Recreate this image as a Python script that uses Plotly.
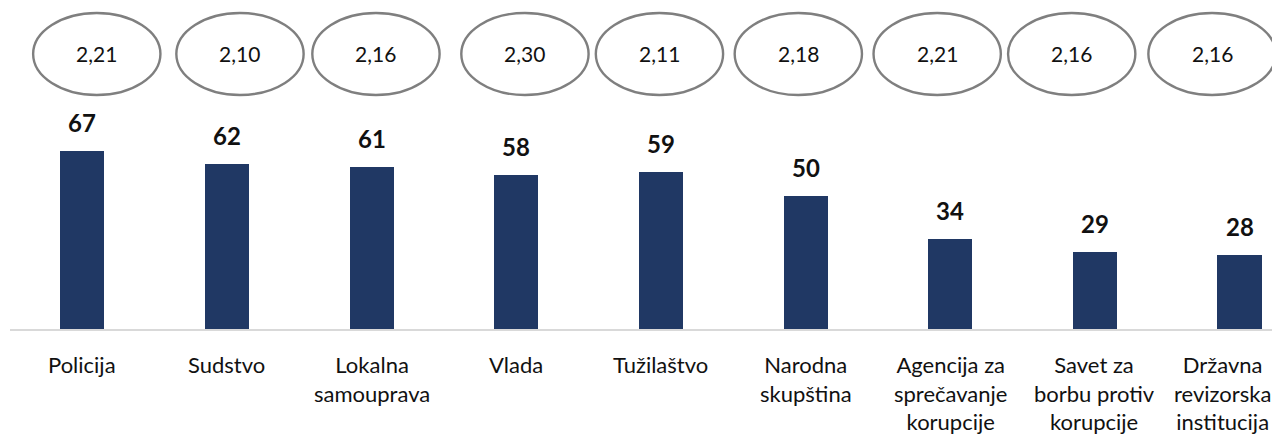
import plotly.graph_objects as go

categories = ["Policija", "Sudstvo", "Lokalna<br>samouprava", "Vlada", "Tužilaštvo",
              "Narodna<br>skupština", "Agencija za<br>sprečavanje<br>korupcije",
              "Savet za<br>borbu protiv<br>korupcije", "Državna<br>revizorska<br>institucija"]
percent = [67, 62, 61, 58, 59, 50, 34, 29, 28]
averages = ["2,21", "2,10", "2,16", "2,30", "2,11", "2,18", "2,21", "2,16", "2,16"]

# page body has an 8px default margin: work in page pixels, convert to figure pixels
OFF = 8
W, HGT = 1280 - OFF, 436 - OFF
PLOT_LEFT, PLOT_TOP, PLOT_BOT = 10 - OFF, 100 - OFF, 329 - OFF
H = PLOT_BOT - PLOT_TOP

# ellipse horizontal offsets (in category units) and sizes
ell_dx = [0.10, 0.09, 0.03, 0.06, -0.01, -0.05, -0.09, -0.16, -0.19]
ell_w = 0.88
# horizontal pixel shift of category labels (last one kept inside the page)
lab_shift = [0, 0, 0, 0, 0, 0, 0, 0, -17]
LABEL_TOP = 349

def py(page_px):
    return (PLOT_BOT - (page_px - OFF)) / H

x = list(range(len(categories)))
fig = go.Figure()
fig.add_trace(go.Bar(x=x, y=percent, width=0.305, marker=dict(color="#203864", line=dict(width=0)),
                     hoverinfo="skip"))

for i, v in enumerate(percent):
    fig.add_annotation(x=i, y=v, text=f"<b>{v}</b>", showarrow=False, yanchor="bottom",
                       xanchor="center", yshift=12,
                       font=dict(family="Lato", size=24, color="#111111"))

for i, a in enumerate(averages):
    cx = i + ell_dx[i]
    fig.add_shape(type="circle", xref="x", yref="paper",
                  x0=cx - ell_w / 2, x1=cx + ell_w / 2, y0=py(95), y1=py(13),
                  line=dict(color="#7f7f7f", width=2.4), fillcolor="rgba(0,0,0,0)")
    fig.add_annotation(x=cx, xref="x", y=py(53), yref="paper", text=a, showarrow=False,
                       xanchor="center", yanchor="middle",
                       font=dict(family="Lato", size=21, color="#111111"))

for i, lab in enumerate(categories):
    fig.add_annotation(x=i, xref="x", y=py(LABEL_TOP), yref="paper",
                       text=lab, showarrow=False, xanchor="center", yanchor="top",
                       align="center", xshift=lab_shift[i],
                       font=dict(family="Lato", size=22, color="#111111"))

fig.update_layout(
    width=W, height=HGT,
    margin=dict(l=PLOT_LEFT, r=0, t=PLOT_TOP, b=HGT - PLOT_BOT, autoexpand=False),
    paper_bgcolor="white", plot_bgcolor="white",
    showlegend=False, bargap=0,
    xaxis=dict(range=[-0.5, 8.28], tickmode="array", tickvals=x, showticklabels=False,
               showline=True, linecolor="#d9d9d9", linewidth=2, ticks="", showgrid=False,
               zeroline=False, automargin=False),
    yaxis=dict(range=[0, H / 2.66], visible=False, showgrid=False, zeroline=False),
)

fig.write_html("out.html")
